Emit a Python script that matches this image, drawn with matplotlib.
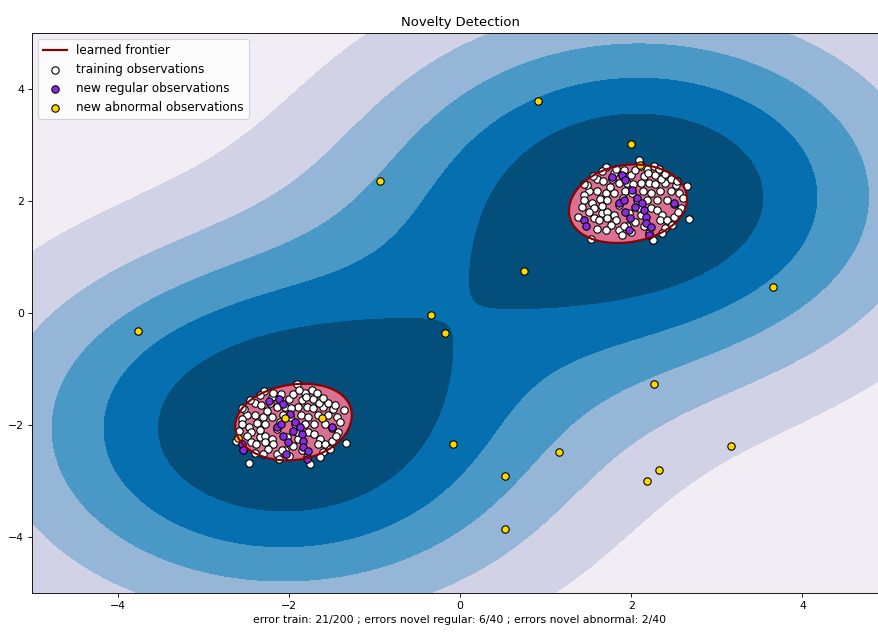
import numpy as np
import matplotlib
matplotlib.use("Agg")
import matplotlib.pyplot as plt
from matplotlib.lines import Line2D

# ---------------- data ----------------
cluster_centers = [(2.0, 2.0), (-2.0, -2.0)]

# training observations: offsets from each cluster centre (same pattern in both clusters)
train_dx = [-0.29, -0.34, 0.09, 0.27, -0.09, 0.00, 0.15, 0.28, -0.40, -0.33,
            -0.14, 0.11, 0.21, 0.40, 0.52, 0.65, -0.49, -0.55, -0.40, -0.30,
            -0.20, -0.07, 0.14, 0.23, 0.34, 0.46, 0.56, -0.37, -0.28, -0.46,
            0.07, 0.19, 0.30, 0.42, -0.44, -0.49, -0.34, -0.28, -0.20, -0.44,
            -0.38, -0.28, -0.18, -0.24, -0.14, -0.11, -0.47, 0.05, 0.11, 0.23,
            0.30, 0.36, 0.34, 0.42, 0.50, 0.67, 0.25, 0.21, 0.09, 0.01,
            -0.05, -0.22, 0.05, 0.19, 0.38, 0.46, 0.54, -0.55, -0.14, -0.34,
            -0.58, -0.52, -0.20, 0.33, 0.60, 0.58, 0.15, 0.00, -0.05, -0.30,
            0.40, 0.28, -0.10, -0.02, 0.12, -0.25, 0.50, -0.62, 0.35, -0.18,
            0.36, -0.40, 0.20, 0.55, -0.55, 0.02, -0.08, 0.40, 0.48, -0.45]
train_dy = [0.60, 0.54, 0.73, 0.63, 0.55, 0.46, 0.45, 0.46, 0.40, 0.35,
            0.32, 0.32, 0.33, 0.32, 0.29, 0.26, 0.17, 0.11, 0.17, 0.14,
            0.14, 0.17, 0.17, 0.15, 0.17, 0.17, 0.15, 0.03, 0.02, -0.04,
            0.02, 0.02, 0.02, 0.02, -0.13, -0.19, -0.22, -0.19, -0.25, -0.31,
            -0.34, -0.31, -0.34, -0.43, -0.52, -0.61, -0.67, -0.37, -0.25, -0.13,
            -0.16, -0.25, -0.34, -0.34, -0.28, -0.32, -0.70, -0.58, -0.13, 0.14,
            0.32, 0.40, 0.55, 0.57, 0.46, 0.40, 0.35, 0.02, -0.07, -0.09,
            -0.10, 0.28, 0.50, 0.58, 0.05, -0.12, -0.45, -0.55, -0.44, -0.52,
            -0.48, 0.30, 0.05, -0.22, 0.62, 0.25, -0.05, -0.28, 0.40, 0.58,
            -0.58, -0.50, 0.50, -0.20, 0.30, 0.30, -0.45, 0.48, -0.42, 0.45]

# new regular observations: offsets from each cluster centre
regular_dx = [-0.23, -0.11, -0.07, 0.01, -0.14, -0.09, 0.07, -0.07, -0.01, 0.15,
              0.17, 0.17, 0.23, -0.03, 0.21, -0.55, -0.53, 0.50, 0.13, 0.05]
regular_dy = [0.43, 0.46, 0.38, 0.20, -0.04, 0.02, 0.05, -0.19, -0.31, -0.16,
              -0.28, -0.40, -0.46, -0.52, -0.61, -0.34, -0.45, -0.04, -0.04, -0.10]

# new abnormal observations
abnormal_x = [0.91, -0.93, 2.00, 2.10, 0.75, 3.66, -3.76, -0.34, -0.17, 2.27,
              -2.04, -1.61, -2.59, -0.08, 1.16, 3.17, 0.52, 2.32, 2.19, 0.53]
abnormal_y = [3.79, 2.36, 3.02, 2.64, 0.75, 0.46, -0.32, -0.04, -0.36, -1.27,
              -1.87, -1.87, -2.23, -2.34, -2.48, -2.38, -2.91, -2.80, -3.00, -3.86]

title_text = "Novelty Detection"
xlabel_text = ("error train: 21/200 ; errors novel regular: 6/40 ; "
               "errors novel abnormal: 2/40")
legend_labels = ["learned frontier", "training observations",
                 "new regular observations", "new abnormal observations"]

# one-class SVM parameters (RBF kernel)
gamma = 0.103
nu = 0.1

# ---------------- build arrays ----------------
X_train = np.vstack([np.column_stack([np.array(train_dx) + cx, np.array(train_dy) + cy])
                     for cx, cy in cluster_centers])
X_reg = np.vstack([np.column_stack([np.array(regular_dx) + cx, np.array(regular_dy) + cy])
                   for cx, cy in cluster_centers])
X_ab = np.column_stack([abnormal_x, abnormal_y])

# ---------------- small one-class SVM (dual solved by projected gradient) ----------------
n = len(X_train)
C = 1.0 / (nu * n)
D2 = ((X_train[:, None, :] - X_train[None, :, :]) ** 2).sum(-1)
K = np.exp(-gamma * D2)


def project(v):
    lo, hi = v.min() - C - 1.0, v.max() + 1.0
    for _ in range(60):
        mid = 0.5 * (lo + hi)
        if np.clip(v - mid, 0, C).sum() > 1.0:
            lo = mid
        else:
            hi = mid
    return np.clip(v - 0.5 * (lo + hi), 0, C)


eta = 1.0 / np.linalg.eigvalsh(K).max()
alpha = np.full(n, 1.0 / n)
yv = alpha.copy()
t = 1.0
for _ in range(4000):
    a_new = project(yv - eta * (K @ yv))
    t_new = 0.5 * (1 + np.sqrt(1 + 4 * t * t))
    yv = a_new + ((t - 1) / t_new) * (a_new - alpha)
    alpha, t = a_new, t_new

g = K @ alpha
free = (alpha > 1e-6 * C) & (alpha < C * (1 - 1e-6))
if free.any():
    rho = g[free].mean()
else:
    rho = 0.5 * (g[alpha >= C * (1 - 1e-6)].max() + g[alpha <= 1e-6 * C].min())

xx, yy = np.meshgrid(np.linspace(-5, 5, 500), np.linspace(-5, 5, 500))
Z = np.zeros_like(xx)
for a, p in zip(alpha, X_train):
    if a > 0:
        Z += a * np.exp(-gamma * ((xx - p[0]) ** 2 + (yy - p[1]) ** 2))
Z -= rho

# ---------------- figure ----------------
W, H = 878, 637
DPI = 78.6
fig = plt.figure(figsize=(W / DPI + 1e-4, H / DPI + 1e-4), dpi=DPI)
ax = fig.add_axes([32 / W, 44 / H, 856 / W, 560 / H])

ax.contourf(xx, yy, Z, levels=np.linspace(Z.min(), 0, 7), cmap=plt.cm.PuBu)
ax.contour(xx, yy, Z, levels=[0], linewidths=2, colors='darkred')
ax.contourf(xx, yy, Z, levels=[0, Z.max()], colors='palevioletred')

s = 46
b1 = ax.scatter(X_train[:, 0], X_train[:, 1], c='white', s=s, edgecolors='k')
b2 = ax.scatter(X_reg[:, 0], X_reg[:, 1], c='blueviolet', s=s, edgecolors='k')
c = ax.scatter(X_ab[:, 0], X_ab[:, 1], c='gold', s=s, edgecolors='k')

ax.set_xlim(-5, 5)
ax.set_ylim(-5, 5)
ax.set_xticks([-4, -2, 0, 2, 4])
ax.set_yticks([-4, -2, 0, 2, 4])
ax.set_title(title_text)
ax.set_xlabel(xlabel_text)

frontier_handle = Line2D([0], [0], color='darkred', lw=2)
ax.legend([frontier_handle, b1, b2, c], legend_labels, loc="upper left",
          prop={'size': 11})

fig.savefig("out.png", dpi=DPI)
